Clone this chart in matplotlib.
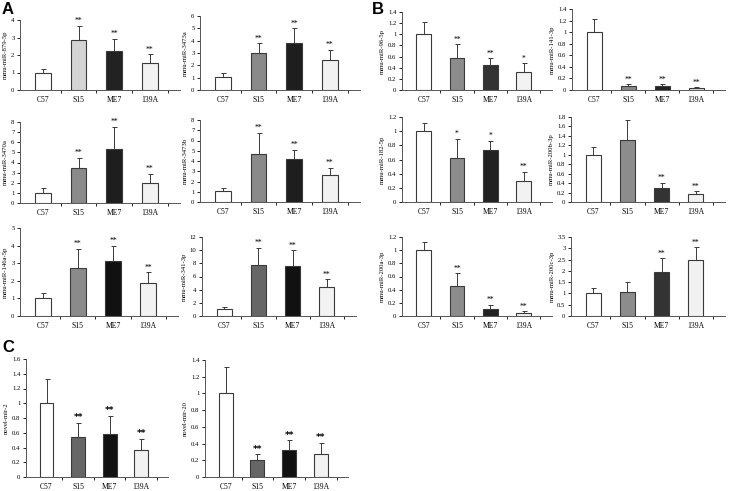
import numpy as np
import matplotlib.pyplot as plt
from matplotlib.ticker import FormatStrFormatter, FixedLocator

# groups shared by every panel
groups = ["C57", "S15", "ME7", "139A"]

# panel A
a_labels = ["mmu-miR-879-5p", "mmu-miR-3473a", "mmu-miR-3470a",
            "mmu-miR-3473b", "mmu-miR-146a-5p", "mmu-miR-341-3p"]
a_means = [[1.0, 2.87, 2.23, 1.55], [1.05, 3.0, 3.8, 2.45], [1.0, 3.45, 5.35, 1.95],
           [1.05, 4.7, 4.2, 2.65], [1.0, 2.72, 3.15, 1.88], [1.0, 7.7, 7.6, 4.4]]
a_errs = [[0.2, 0.8, 0.7, 0.5], [0.3, 0.8, 1.2, 0.8], [0.45, 1.0, 2.15, 0.95],
          [0.3, 2.05, 0.9, 0.7], [0.28, 1.1, 0.85, 0.6], [0.35, 2.7, 2.4, 1.2]]
a_stars = [["", "**", "**", "**"]] * 6
a_ymax = [4, 6, 8, 8, 5, 12]
a_ystep = [1, 1, 1, 1, 1, 2]

# panel B
b_labels = ["mmu-miR-96-5p", "mmu-miR-141-3p", "mmu-miR-182-5p",
            "mmu-miR-200b-3p", "mmu-miR-200a-3p", "mmu-miR-200c-3p"]
b_means = [[1.0, 0.58, 0.45, 0.32], [1.0, 0.07, 0.07, 0.035], [1.0, 0.62, 0.74, 0.30],
           [1.0, 1.31, 0.29, 0.16], [1.0, 0.45, 0.10, 0.05], [1.0, 1.05, 1.95, 2.5]]
b_errs = [[0.22, 0.24, 0.12, 0.16], [0.22, 0.03, 0.03, 0.01], [0.12, 0.27, 0.12, 0.13],
          [0.17, 0.42, 0.12, 0.07], [0.12, 0.2, 0.07, 0.02], [0.25, 0.45, 0.6, 0.55]]
b_stars = [["", "**", "**", "*"], ["", "**", "**", "**"], ["", "*", "*", "**"],
           ["", "", "**", "**"], ["", "**", "**", "**"], ["", "", "**", "**"]]
b_ymax = [1.4, 1.4, 1.2, 1.8, 1.2, 3.5]
b_ystep = [0.2, 0.2, 0.2, 0.2, 0.2, 0.5]

# panel C
c_labels = ["novel-mir-2", "novel-mir-20"]
c_means = [[1.0, 0.54, 0.58, 0.36], [1.0, 0.20, 0.32, 0.28]]
c_errs = [[0.33, 0.19, 0.25, 0.16], [0.32, 0.07, 0.12, 0.13]]
c_stars = [["", "**", "**", "**"]] * 2
c_ymax = [1.6, 1.4]
c_ystep = [0.2, 0.2]

W, H = 732, 491
fig = plt.figure(figsize=(W / 100, H / 100), dpi=100)
plt.rcParams['font.family'] = ['Liberation Serif', 'DejaVu Serif']


def box(x0, x1, ytop, yzero):
    # pixel box -> figure fraction
    return [x0 / W, (H - yzero) / H, (x1 - x0) / W, (yzero - ytop) / H]


def panel(rect, means, errs, stars, ymax, ystep, ylabel, colors, bold=False):
    ax = fig.add_axes(rect)
    x = np.arange(len(groups))
    ax.bar(x, means, width=0.44, color=colors, edgecolor="#3a3a3a", linewidth=0.8, zorder=2)
    ax.errorbar(x, means, yerr=[np.zeros(len(errs)), errs], fmt="none", ecolor="#3a3a3a",
                elinewidth=0.7, capsize=1.8, capthick=0.7, zorder=3)
    for xi, m, e, s in zip(x, means, errs, stars):
        if s:
            ax.annotate(s, (xi, m + e), xytext=(0, 0.5), textcoords="offset points",
                        ha="center", va="bottom", fontsize=6.5 if bold else 5.5,
                        fontweight="bold" if bold else "normal", family="DejaVu Sans" if bold else None)
    ax.set_xlim(-0.65, 3.85)
    ax.set_ylim(0, ymax)
    ax.set_yticks(np.round(np.arange(0, ymax + ystep / 2, ystep), 3))
    ax.yaxis.set_major_formatter(FormatStrFormatter("%g"))
    ax.set_xticks(x)
    ax.set_xticklabels(groups, fontsize=5.5)
    ax.xaxis.set_minor_locator(FixedLocator([0.5, 1.5, 2.5, 3.5]))
    ax.tick_params(axis="x", which="major", length=0, pad=4)
    ax.tick_params(axis="x", which="minor", length=2, width=0.6, direction="out")
    ax.tick_params(axis="y", labelsize=4.8, length=2, width=0.6, pad=2)
    ax.set_ylabel(ylabel, fontsize=4.8, labelpad=2)
    for sp in ["top", "right"]:
        ax.spines[sp].set_visible(False)
    for sp in ["left", "bottom"]:
        ax.spines[sp].set_linewidth(0.7)
        ax.spines[sp].set_color("#555555")
    return ax


a_colors = [["white", "#d4d4d4", "#222222", "#f2f2f2"],
            ["white", "#8a8a8a", "#1e1e1e", "#f2f2f2"],
            ["white", "#8a8a8a", "#1e1e1e", "#f2f2f2"],
            ["white", "#8a8a8a", "#1e1e1e", "#f2f2f2"],
            ["white", "#8a8a8a", "#111111", "#f2f2f2"],
            ["white", "#666666", "#111111", "#f2f2f2"]]
b_colors = [["white", "#8c8c8c", "#333333", "#f2f2f2"],
            ["white", "#888888", "#222222", "#e8e8e8"],
            ["white", "#8c8c8c", "#222222", "#f2f2f2"],
            ["white", "#8c8c8c", "#333333", "#f2f2f2"],
            ["white", "#8c8c8c", "#222222", "#f2f2f2"],
            ["white", "#8c8c8c", "#333333", "#f2f2f2"]]
c_colors = [["white", "#666666", "#111111", "#f2f2f2"]] * 2

a_boxes = [box(20, 180, 20, 90), box(200, 360, 16, 90), box(20, 180, 122, 203),
           box(200, 360, 120, 202), box(20, 178, 228, 316), box(202, 356, 237, 316)]
b_boxes = [box(402, 552, 12, 90), box(572, 725, 9, 90), box(402, 552, 117, 202),
           box(571, 725, 117, 202), box(402, 552, 237, 316), box(571, 725, 237, 316)]
c_boxes = [box(26, 168, 359, 477), box(205, 348, 360, 477)]

for i in range(6):
    panel(a_boxes[i], a_means[i], a_errs[i], a_stars[i], a_ymax[i], a_ystep[i], a_labels[i], a_colors[i])
    panel(b_boxes[i], b_means[i], b_errs[i], b_stars[i], b_ymax[i], b_ystep[i], b_labels[i], b_colors[i])
for i in range(2):
    panel(c_boxes[i], c_means[i], c_errs[i], c_stars[i], c_ymax[i], c_ystep[i], c_labels[i], c_colors[i], bold=True)

for letter, px, py in [("A", 2, 2), ("B", 372, 2), ("C", 2, 340)]:
    fig.text(px / W, 1 - py / H, letter, fontsize=12, fontweight="bold",
             family="Liberation Sans", ha="left", va="top")

plt.savefig("out.png", dpi=100)
